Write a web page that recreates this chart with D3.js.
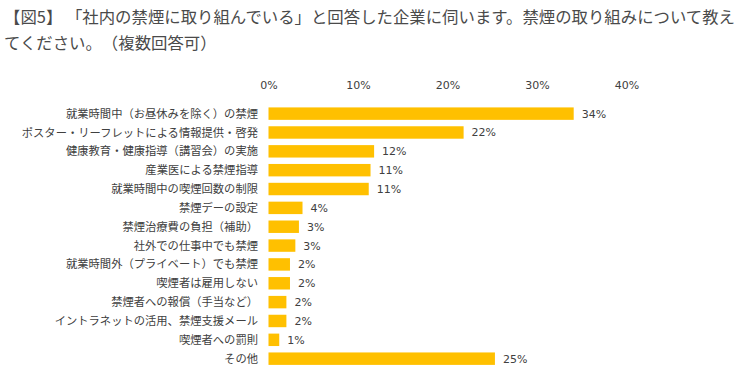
<!DOCTYPE html>
<html>
<head>
<meta charset="utf-8">
<script src="https://cdn.jsdelivr.net/npm/d3@7/dist/d3.min.js"></script>
<style>
  body { margin: 0; background: #fff; }
  svg { text-spacing-trim: space-all; }
  text { fill: #404040; }
  .title { font-family: "Noto Sans CJK JP", sans-serif; font-size: 16.4px; fill: #4a4a4a; }
  .cat { font-family: "Noto Sans CJK JP", sans-serif; font-size: 11.3px; }
  .num, .tick text { font-family: "DejaVu Sans", Verdana, sans-serif; font-size: 11px; }
</style>
</head>
<body>
<svg id="chart" width="750" height="384"></svg>
<script>
// data
const titleLines = [
  "【図5】 「社内の禁煙に取り組んでいる」と回答した企業に伺います。禁煙の取り組みについて教え",
  "てください。（複数回答可）"
];
const categories = [
  "就業時間中（お昼休みを除く）の禁煙",
  "ポスター・リーフレットによる情報提供・啓発",
  "健康教育・健康指導（講習会）の実施",
  "産業医による禁煙指導",
  "就業時間中の喫煙回数の制限",
  "禁煙デーの設定",
  "禁煙治療費の負担（補助）",
  "社外での仕事中でも禁煙",
  "就業時間外（プライベート）でも禁煙",
  "喫煙者は雇用しない",
  "禁煙者への報償（手当など）",
  "イントラネットの活用、禁煙支援メール",
  "喫煙者への罰則",
  "その他"
];
const values = [34.1, 21.8, 11.8, 11.4, 11.2, 3.8, 3.4, 3.0, 2.4, 2.4, 2.0, 2.0, 1.2, 25.3];
const tickValues = [0, 10, 20, 30, 40];

const svg = d3.select("#chart");

// title (two lines, wraps like the original)
svg.selectAll("text.title")
  .data(titleLines)
  .join("text")
  .attr("class", "title")
  .attr("x", 4)
  .attr("y", (d, i) => 23 + i * 26)
  .text(d => d);

const x = d3.scaleLinear().domain([0, 40]).range([268.5, 626.5]);
const y = d3.scaleBand().domain(categories).range([101, 371.3]).padding(0.34);

// top axis: labels only, no line or ticks
const axis = svg.append("g")
  .attr("transform", "translate(0,89)")
  .call(d3.axisTop(x).tickValues(tickValues).tickSize(0).tickPadding(0).tickFormat(d => d + "%"));
axis.select(".domain").remove();
axis.selectAll("text").attr("fill", "#404040");

// bars
svg.append("g")
  .selectAll("rect")
  .data(values)
  .join("rect")
  .attr("x", x(0))
  .attr("y", (d, i) => y(categories[i]))
  .attr("width", d => x(d) - x(0))
  .attr("height", y.bandwidth())
  .attr("fill", "#FFC000");

// category labels
svg.append("g")
  .selectAll("text")
  .data(categories)
  .join("text")
  .attr("class", "cat")
  .attr("x", 258)
  .attr("y", d => y(d) + y.bandwidth() / 2)
  .attr("dy", "0.36em")
  .attr("text-anchor", "end")
  .text(d => d);

// value labels
svg.append("g")
  .selectAll("text")
  .data(values)
  .join("text")
  .attr("class", "num")
  .attr("x", d => x(d) + 8)
  .attr("y", (d, i) => y(categories[i]) + y.bandwidth() / 2)
  .attr("dy", "0.36em")
  .text(d => Math.round(d) + "%");
</script>
</body>
</html>
